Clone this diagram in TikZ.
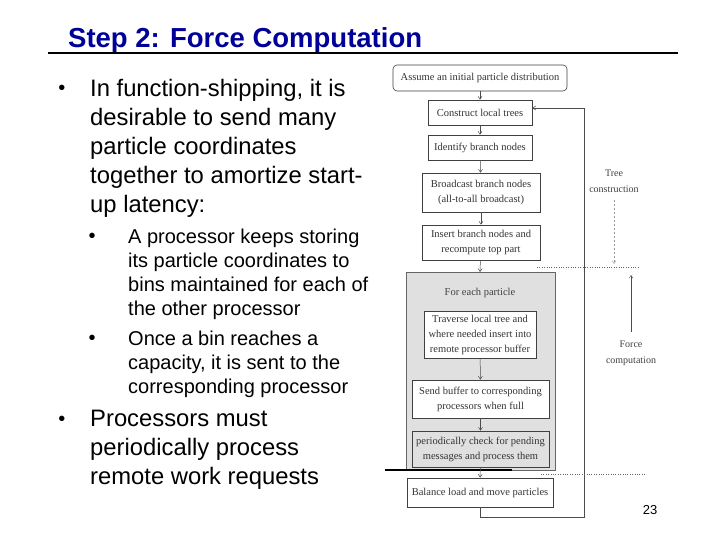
\documentclass[tikz,border=0pt]{standalone}
\usepackage{fontspec}
\setmainfont{Liberation Sans}
\newfontfamily\serifx{Liberation Serif}
\usetikzlibrary{arrows.meta}
\definecolor{titleblue}{RGB}{0,0,153}
\begin{document}
\begin{tikzpicture}[x=1pt,y=-1pt,
  fbox/.style={draw=black!75,line width=0.6pt,fill=white,align=center,font=\serifx\fontsize{10.5}{15}\selectfont,inner sep=0pt,text=black!80},
  flow/.style={draw=black!70,line width=0.5pt,-{Straight Barb[length=3pt,width=4pt]}},
  btext/.style={anchor=north west,align=left,font=\fontsize{23.8}{29}\selectfont,inner sep=0pt},
  stext/.style={anchor=north west,align=left,font=\fontsize{20}{24}\selectfont,inner sep=0pt},
  lbl/.style={font=\serifx\fontsize{10}{16}\selectfont,align=center,text=black!75}]
\useasboundingbox (0,0) rectangle (720,540);
% title
\node[anchor=west,font=\bfseries\fontsize{27.5}{30}\selectfont,text=titleblue,inner sep=0pt] (title) at (68,40) {Step 2: Force Computation};
\draw[line width=2.5pt] (48,53) -- (678,53);
% bullets
\node[font=\fontsize{20}{24}\selectfont] (b1) at (62,90) {•};
\node[btext] (t1) at (90,79) {In function-shipping, it is\\desirable to send many\\particle coordinates\\together to amortize start-\\up latency:};
\node[font=\fontsize{20}{24}\selectfont] (s1) at (92,238) {•};
\node[stext] (u1) at (128,229) {A processor keeps storing\\its particle coordinates to\\bins maintained for each of\\the other processor};
\node[font=\fontsize{20}{24}\selectfont] (s2) at (92,340) {•};
\node[stext] (u2) at (128,331) {Once a bin reaches a\\capacity, it is sent to the\\corresponding processor};
\node[font=\fontsize{20}{24}\selectfont] (b2) at (62,421) {•};
\node[btext] (t2) at (90,410) {Processors must\\periodically process\\remote work requests};
% shaded region
\fill[black!12] (406,272) rectangle (555,470);
\draw[black!60,line width=0.6pt] (406,272) rectangle (555,470);
\draw[line width=1.2pt] (385,470) -- (512,470);
% boxes
\node[fbox,rounded corners=4pt,minimum width=174pt,minimum height=26pt] (a) at (480,78) {Assume an initial particle distribution};
\node[fbox,minimum width=104pt,minimum height=25pt] (c) at (480,112.5) {Construct local trees};
\node[fbox,minimum width=104pt,minimum height=25pt] (i) at (480,147.5) {Identify branch nodes};
\node[fbox,minimum width=118pt,minimum height=39pt] (bc) at (481,192.5) {Broadcast branch nodes\\(all-to-all broadcast)};
\node[fbox,minimum width=118pt,minimum height=35pt] (ins) at (481,242.5) {Insert branch nodes and\\recompute top part};
\node[lbl,font=\serifx\fontsize{10.5}{12}\selectfont] (fe) at (480,293) {For each particle};
\node[fbox,minimum width=112pt,minimum height=47pt] (tr) at (480,334.5) {Traverse local tree and\\where needed insert into\\remote processor buffer};
\node[fbox,minimum width=137pt,minimum height=38pt] (sb) at (480.5,399) {Send buffer to corresponding\\processors when full};
\node[fbox,fill=black!12,minimum width=137pt,minimum height=36pt] (pc) at (480.5,449) {periodically check for pending\\messages and process them};
\node[fbox,minimum width=146pt,minimum height=29pt] (bl) at (480,492.5) {Balance load and move particles};
% arrows
\draw[flow] (a) -- (c);
\draw[flow] (c) -- (i);
\draw[flow] (i) -- (bc);
\draw[flow] (bc) -- (ins);
\draw[flow] (ins) -- (480,272);
\draw[flow] (tr) -- (sb);
\draw[flow] (sb) -- (pc);
\draw[flow] (pc) -- (bl);
\coordinate (l1) at (480,517);
\coordinate (l2) at (584,517);
\coordinate (l3) at (584,108);
\draw[flow] (bl.south) -- (l1) -- (l2) -- (l3) -- (c.east |- l3);
% side labels
\node[lbl] (tc) at (614,181) {Tree\\construction};
\coordinate (tcd) at (614,264);
\draw[black!40,dash pattern=on 2pt off 2pt,-{Straight Barb[length=3pt,width=4pt]}] (614,200) -- (tcd);
\draw[black!60,dotted] (537,267) -- (640,267);
\node[lbl] (fc) at (631,353) {Force\\computation};
\coordinate (fct) at (631,275);
\draw[black!70,-{Straight Barb[length=3pt,width=4pt]}] (631,332) -- (fct);
\draw[black!60,dotted] (541,474) -- (645,474);
\node[font=\fontsize{13}{15}\selectfont] (pg) at (650,510) {23};
\end{tikzpicture}
\end{document}
